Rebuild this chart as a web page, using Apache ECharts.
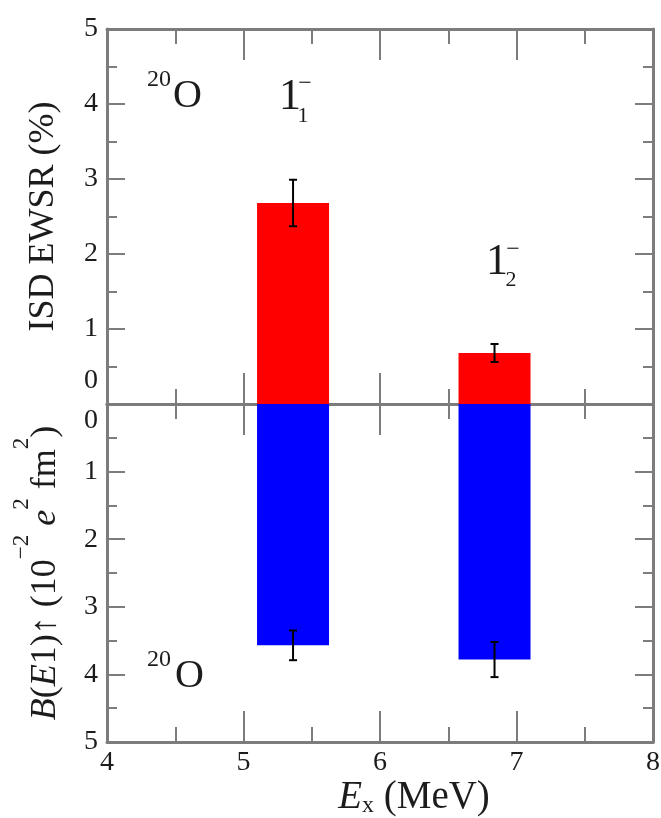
<!DOCTYPE html>
<html><head><meta charset="utf-8">
<script src="https://cdn.jsdelivr.net/npm/echarts@6/dist/echarts.min.js"></script>
<style>html,body{margin:0;padding:0;background:#fff}#c{width:661px;height:818px}</style>
</head><body><div id="c"></div>
<script>
// ---- data ----
const energies = [5.363, 6.839];          // MeV, bar centres
const ewsr = [2.68, 0.68];                // ISD EWSR (%)
const ewsrErr = [0.31, 0.12];
const be1 = [3.57, 3.78];                 // B(E1)up (1e-2 e^2 fm^2)
const be1Err = [0.22, 0.26];
const xTicks = [4, 5, 6, 7, 8];
const yTicks = [0, 1, 2, 3, 4, 5];

// ---- style ----
const FRAME = '#7c7c7c';
const TXT = '#1c1c1c';
const SERIF = '"Liberation Serif","Times New Roman",serif';
const TICKFS = 28;

const xMin = xTicks[0], xMax = xTicks[xTicks.length - 1];
const yMin = yTicks[0], yMax = yTicks[yTicks.length - 1];

function xAxisCfg(grid, pos, showLabel) {
  return {
    type: 'value', gridIndex: grid, position: pos, min: xMin, max: xMax, interval: 1,
    axisLine: { show: true, onZero: false, lineStyle: { color: FRAME, width: 3 } },
    axisTick: { show: true, inside: true, length: 31, lineStyle: { color: FRAME, width: 2 } },
    minorTick: { show: true, splitNumber: 2, length: 15, lineStyle: { color: FRAME, width: 2 } },
    splitLine: { show: false }, minorSplitLine: { show: false },
    axisLabel: { show: showLabel, margin: 7, fontSize: TICKFS, fontFamily: SERIF, color: TXT,
      formatter: v => String(v) }
  };
}
function yAxisCfg(grid, pos, inverse, showLabel, zeroPad) {
  return {
    type: 'value', gridIndex: grid, position: pos, min: yMin, max: yMax, interval: 1, inverse: inverse,
    axisLine: { show: true, onZero: false, lineStyle: { color: FRAME, width: 3 } },
    axisTick: { show: true, inside: true, length: 18, lineStyle: { color: FRAME, width: 2 } },
    minorTick: { show: true, splitNumber: 2, length: 10, lineStyle: { color: FRAME, width: 2 } },
    splitLine: { show: false }, minorSplitLine: { show: false },
    axisLabel: { show: showLabel, margin: 9, fontSize: TICKFS, fontFamily: SERIF, color: TXT,
      formatter: v => v === 0 ? '{z|0}' : String(v),
      rich: { z: { fontSize: TICKFS, fontFamily: SERIF, color: TXT, padding: zeroPad } } }
  };
}

const xAxes = [
  xAxisCfg(0, 'bottom', false),
  xAxisCfg(0, 'top', false),
  xAxisCfg(1, 'top', false),
  Object.assign(xAxisCfg(1, 'bottom', true), {
    name: '{i|E}{sub|x}{r| (MeV)}', nameLocation: 'middle', nameGap: 30,
    nameTextStyle: {
      padding: [0, 0, 0, 68],
      rich: {
        i: { fontSize: 39, fontFamily: SERIF, fontStyle: 'italic', color: TXT, lineHeight: 40 },
        sub: { fontSize: 24, fontFamily: SERIF, color: TXT, lineHeight: 18, verticalAlign: 'bottom' },
        r: { fontSize: 39, fontFamily: SERIF, color: TXT, lineHeight: 40 }
      }
    }
  })
];

const yAxes = [
  Object.assign(yAxisCfg(0, 'left', false, true, [0, 0, 46, 0]), {
    name: 'ISD EWSR (%)', nameLocation: 'middle', nameRotate: 90, nameGap: 45,
    nameTextStyle: { fontSize: 36, fontFamily: SERIF, color: TXT }
  }),
  yAxisCfg(0, 'right', false, false, [0, 0, 0, 0]),
  Object.assign(yAxisCfg(1, 'left', true, true, [34, 0, 0, 0]), {
    name: '{i|B}{r|(}{i|E}{r|1)↑ (10}{sup|−2}{r| }{i|e}{sup|2}{r| fm}{sup|2}{r|)}',
    nameLocation: 'middle', nameRotate: 90, nameGap: 43,
    nameTextStyle: {
      rich: {
        i: { fontSize: 36, fontFamily: SERIF, fontStyle: 'italic', color: TXT, lineHeight: 54, verticalAlign: 'bottom' },
        r: { fontSize: 36, fontFamily: SERIF, color: TXT, lineHeight: 54, verticalAlign: 'bottom' },
        sup: { fontSize: 23, fontFamily: SERIF, color: TXT, lineHeight: 23, verticalAlign: 'top' }
      }
    }
  }),
  yAxisCfg(1, 'right', true, false, [0, 0, 0, 0])
];

function errorSeries(xi, yi, vals, errs) {
  return {
    type: 'custom', xAxisIndex: xi, yAxisIndex: yi, z: 5, silent: true,
    data: energies.map((e, i) => [e, vals[i] - errs[i], vals[i] + errs[i]]),
    encode: { x: 0, y: [1, 2] },
    renderItem: function (params, api) {
      const x = api.value(0);
      const p1 = api.coord([x, api.value(1)]);
      const p2 = api.coord([x, api.value(2)]);
      const cap = 4;
      const st = { stroke: '#000', lineWidth: 2 };
      return {
        type: 'group', children: [
          { type: 'line', shape: { x1: p1[0], y1: p1[1], x2: p2[0], y2: p2[1] }, style: st },
          { type: 'line', shape: { x1: p1[0] - cap, y1: p1[1], x2: p1[0] + cap, y2: p1[1] }, style: st },
          { type: 'line', shape: { x1: p2[0] - cap, y1: p2[1], x2: p2[0] + cap, y2: p2[1] }, style: st }
        ]
      };
    }
  };
}

function txt(x, y, text, size, align, extra) {
  return { type: 'text', x: x, y: y, z: 10, silent: true,
    style: Object.assign({ text: text, fontSize: size, fontFamily: SERIF, fill: TXT,
      align: align || 'left', verticalAlign: 'middle' }, extra || {}) };
}

const option = {
  animation: false,
  backgroundColor: '#fff',
  grid: [
    { left: 107, top: 29, width: 546, height: 375, outerBoundsMode: 'none', containLabel: false },
    { left: 107, top: 404, width: 546, height: 338, outerBoundsMode: 'none', containLabel: false }
  ],
  xAxis: xAxes,
  yAxis: yAxes,
  series: [
    { type: 'bar', xAxisIndex: 0, yAxisIndex: 0, barWidth: 72, z: 2,
      itemStyle: { color: '#ff0000' },
      data: energies.map((e, i) => [e, ewsr[i]]) },
    { type: 'bar', xAxisIndex: 3, yAxisIndex: 2, barWidth: 72, z: 2,
      itemStyle: { color: '#0000ff' },
      data: energies.map((e, i) => [e, be1[i]]) },
    errorSeries(0, 0, ewsr, ewsrErr),
    errorSeries(3, 2, be1, be1Err)
  ],
  graphic: [
    txt(147, 80, '20', 24),
    txt(173, 96, 'O', 40),
    txt(290, 97, '1', 44, 'center'),
    txt(303, 116, '1', 22, 'center'),
    txt(305, 84, '−', 24, 'center'),
    txt(497, 262, '1', 44, 'center'),
    txt(511, 280, '2', 22, 'center'),
    txt(513, 250, '−', 24, 'center'),
    txt(147, 660, '20', 24),
    txt(175, 676, 'O', 40)
  ]
};

const chart = echarts.init(document.getElementById('c'), null, { renderer: 'canvas' });
chart.setOption(option);
</script>
</body></html>
